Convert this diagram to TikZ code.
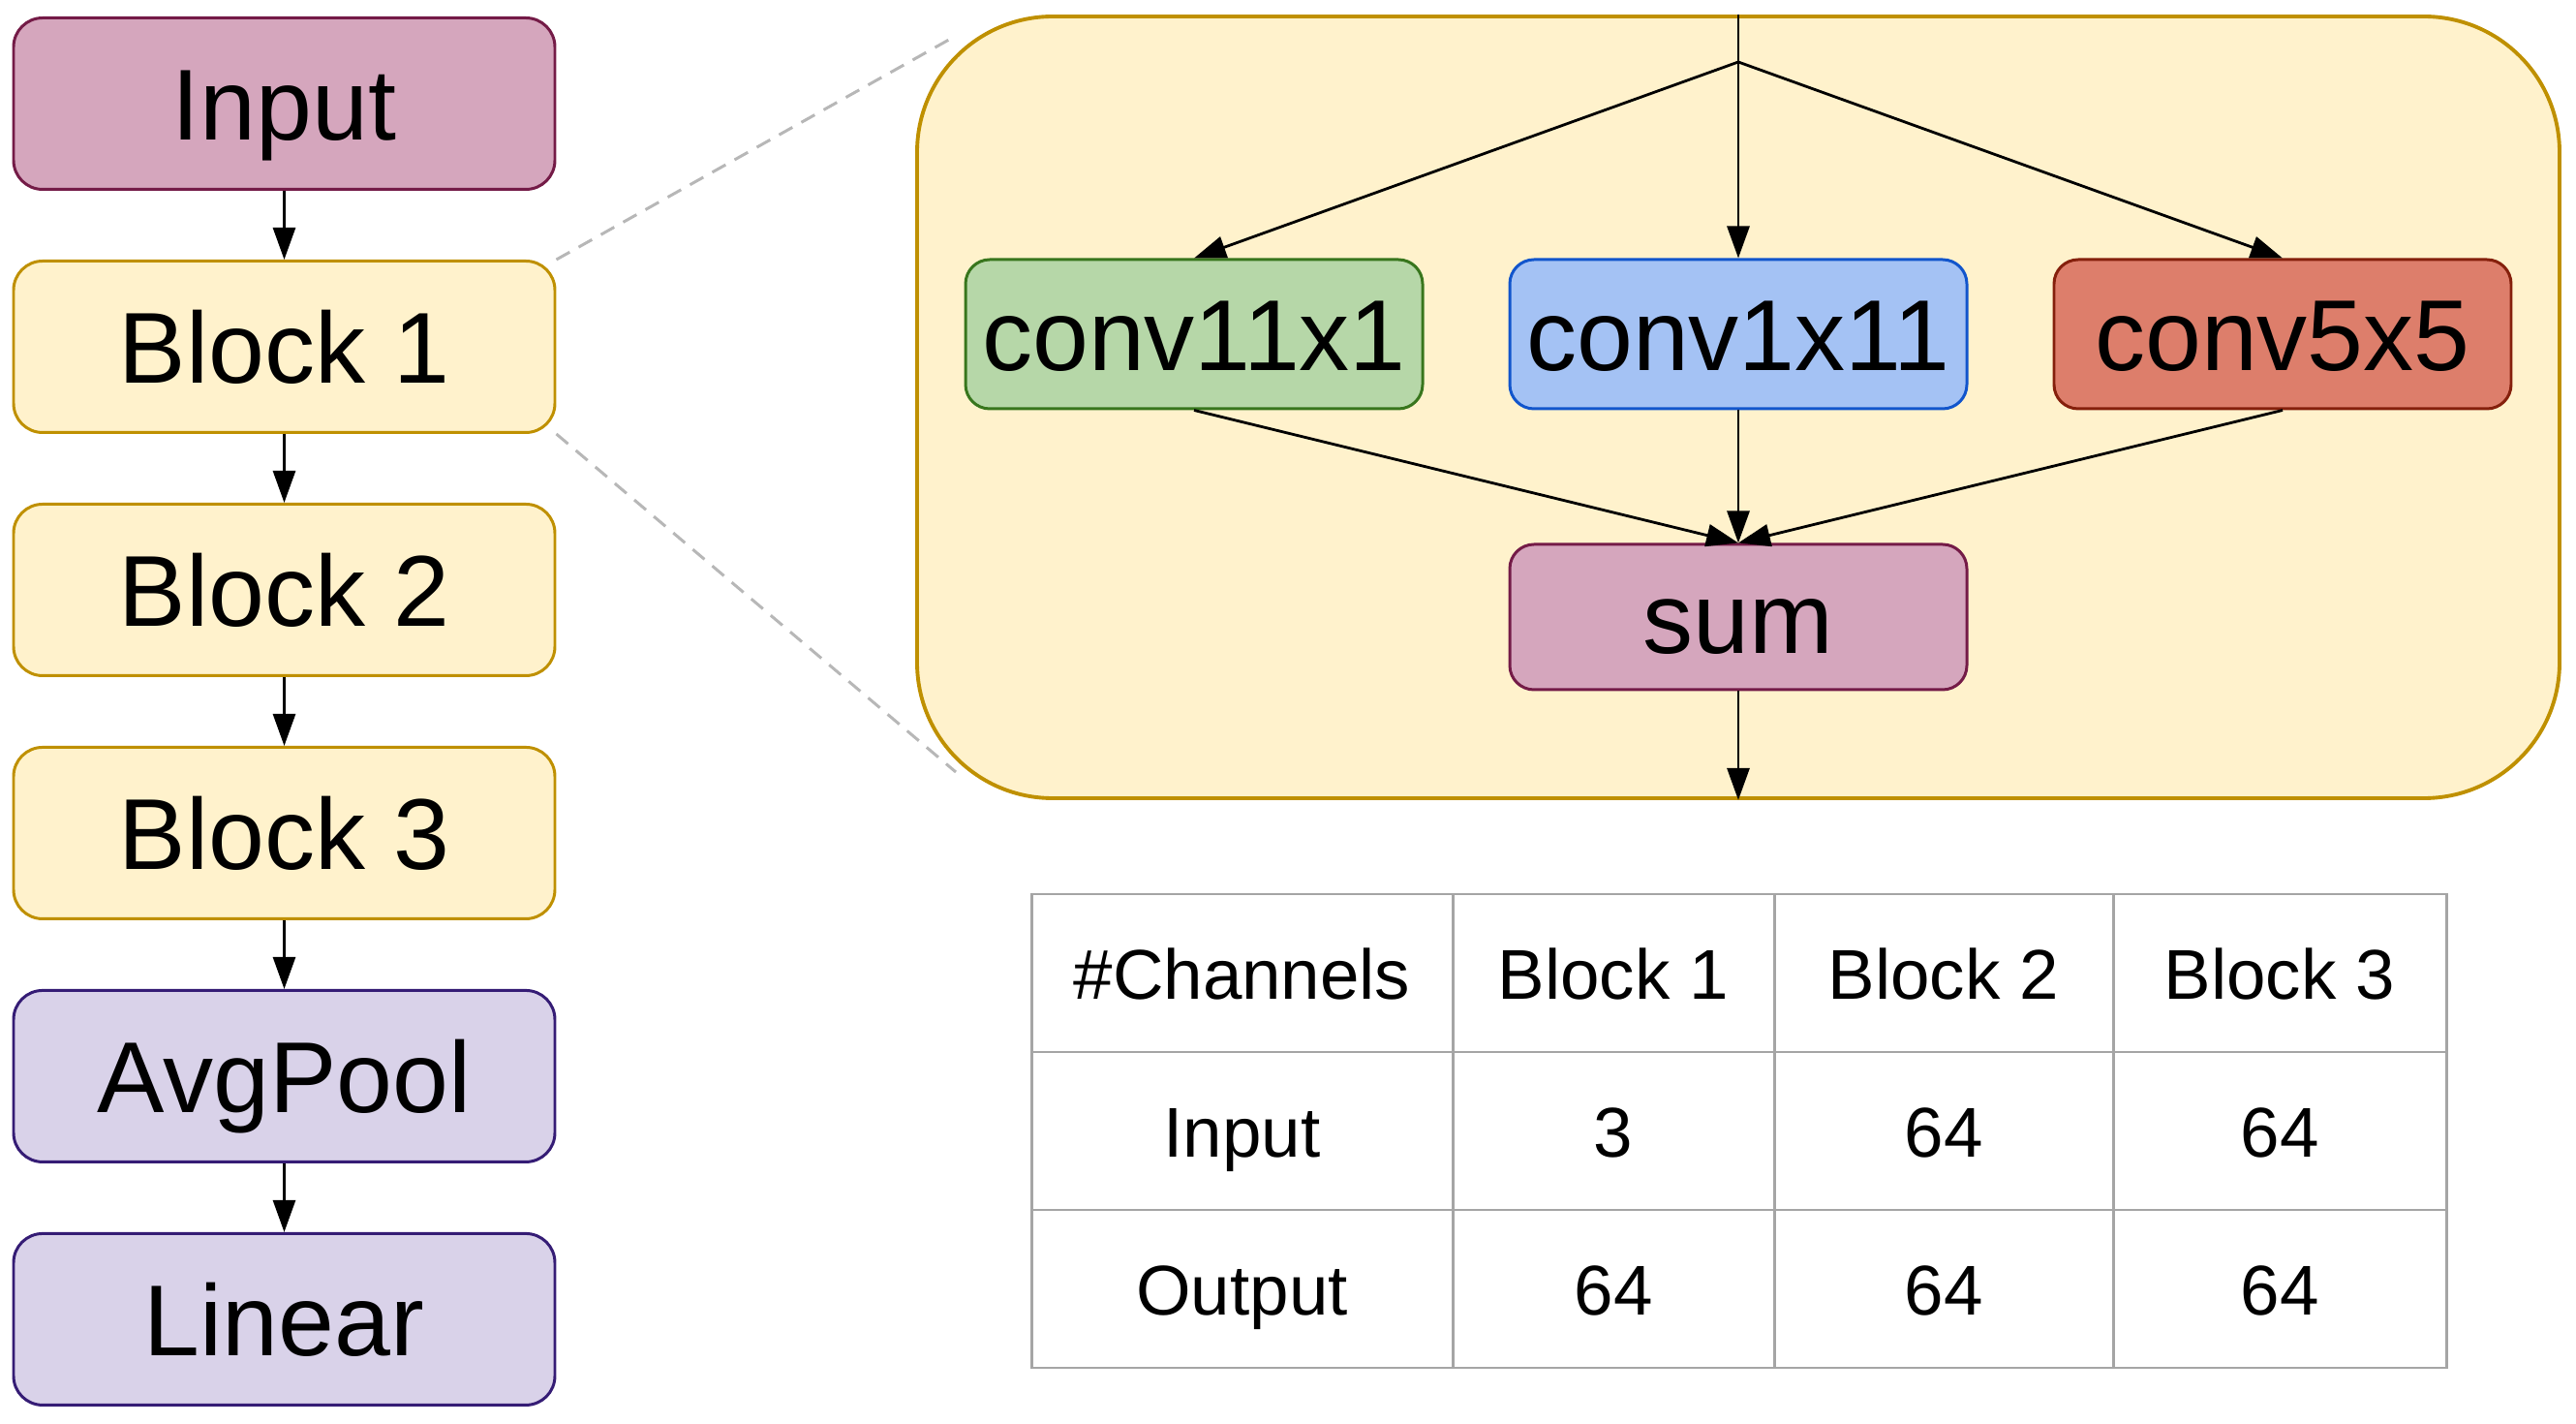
\documentclass[tikz,border=0pt]{standalone}
\usepackage{fontspec}
\setmainfont{Liberation Sans}
\usetikzlibrary{arrows.meta, positioning}

\definecolor{pinkfill}{HTML}{D5A6BD}
\definecolor{pinkline}{HTML}{741B47}
\definecolor{yelfill}{HTML}{FFF2CC}
\definecolor{yelline}{HTML}{BF9000}
\definecolor{grnfill}{HTML}{B6D7A8}
\definecolor{grnline}{HTML}{38761D}
\definecolor{blufill}{HTML}{A4C2F4}
\definecolor{bluline}{HTML}{1155CC}
\definecolor{redfill}{HTML}{DD7E6B}
\definecolor{redline}{HTML}{85200C}
\definecolor{purfill}{HTML}{D9D2E9}
\definecolor{purline}{HTML}{351C75}
\definecolor{tblgray}{HTML}{A5A5A5}
\definecolor{zoomgray}{HTML}{B7B7B7}

\tikzset{
  layer/.style={draw, rounded corners=0.3cm, minimum width=5.59cm, minimum height=1.77cm, line width=0.85pt, inner sep=0pt, text height=21.6pt, text depth=0pt, font=\fontsize{29.6}{34}\selectfont},
  op/.style={draw, rounded corners=0.25cm, minimum width=4.72cm, minimum height=1.54cm, line width=0.85pt, inner sep=0pt, text height=21.6pt, text depth=0pt, font=\fontsize{29.6}{34}\selectfont},
  cell/.style={draw=tblgray, line width=0.85pt, minimum height=1.63cm, inner sep=0pt, outer sep=0pt, text height=15.1pt, text depth=0pt, font=\fontsize{20.7}{24}\selectfont},
  flow/.style={-{Triangle[length=0.33cm, width=0.23cm]}, line width=0.8pt},
}

\begin{document}
\begin{tikzpicture}
                \useasboundingbox (0,0) rectangle (26.6,-14.7);
                % network
                \node[layer, fill=pinkfill, draw=pinkline] (inp) at (2.935,-1.07) {Input};
                \node[layer, fill=yelfill, draw=yelline, below=0.71cm of inp] (b1) {Block 1};
                \node[layer, fill=yelfill, draw=yelline, below=0.71cm of b1] (b2) {Block 2};
                \node[layer, fill=yelfill, draw=yelline, below=0.71cm of b2] (b3) {Block 3};
                \node[layer, fill=purfill, draw=purline, below=0.71cm of b3] (pool) {AvgPool};
                \node[layer, fill=purfill, draw=purline, below=0.71cm of pool] (lin) {Linear};
                \draw[flow] (inp) -- (b1);
                \draw[flow] (b1) -- (b2);
                \draw[flow] (b2) -- (b3);
                \draw[flow] (b3) -- (pool);
                \draw[flow] (pool) -- (lin);
                % zoom
                \coordinate (zt) at (9.87,-0.37);
                \coordinate (zb) at (9.87,-7.97);
                \draw[zoomgray, dashed, dash pattern=on 4.5pt off 3pt, line width=0.85pt] (b1.north east) -- (zt);
                \draw[zoomgray, dashed, dash pattern=on 4.5pt off 3pt, line width=0.85pt] (b1.south east) -- (zb);
                % block detail
                \node[draw=yelline, fill=yelfill, line width=1.1pt, rounded corners=1.4cm, minimum width=16.96cm, minimum height=8.07cm] (blk) at (17.95,-4.205) {};
                \coordinate (split) at (17.95,-0.64);
                \node[op, fill=blufill, draw=bluline] (c2) at (17.95,-3.45) {conv1x11};
                \node[op, fill=grnfill, draw=grnline, left=0.87cm of c2] (c1) {conv11x1};
                \node[op, fill=redfill, draw=redline, right=0.87cm of c2] (c3) {conv5x5};
                \node[op, fill=pinkfill, draw=pinkline, minimum height=1.5cm, below=1.37cm of c2] (sum) {sum};
                \draw[line width=0.8pt] (blk.north) -- (split);
                \draw[flow] (split) -- (c1.north);
                \draw[flow] (split) -- (c2.north);
                \draw[flow] (split) -- (c3.north);
                \draw[flow] (c1.south) -- (sum.north);
                \draw[flow] (c2.south) -- (sum.north);
                \draw[flow] (c3.south) -- (sum.north);
                \draw[flow] (sum) -- (blk.south);
                % channels table
                \node[cell, minimum width=4.35cm, anchor=north west] (t11) at (10.65,-9.23) {\#Channels};
                \node[cell, minimum width=3.32cm, right=0pt of t11] (t12) {Block 1};
                \node[cell, minimum width=3.50cm, right=0pt of t12] (t13) {Block 2};
                \node[cell, minimum width=3.44cm, right=0pt of t13] (t14) {Block 3};
                \node[cell, minimum width=4.35cm, below=0pt of t11] (t21) {Input};
                \node[cell, minimum width=3.32cm, below=0pt of t12] (t22) {3};
                \node[cell, minimum width=3.50cm, below=0pt of t13] (t23) {64};
                \node[cell, minimum width=3.44cm, below=0pt of t14] (t24) {64};
                \node[cell, minimum width=4.35cm, below=0pt of t21] (t31) {Output};
                \node[cell, minimum width=3.32cm, below=0pt of t22] (t32) {64};
                \node[cell, minimum width=3.50cm, below=0pt of t23] (t33) {64};
                \node[cell, minimum width=3.44cm, below=0pt of t24] (t34) {64};
\end{tikzpicture}
\end{document}
